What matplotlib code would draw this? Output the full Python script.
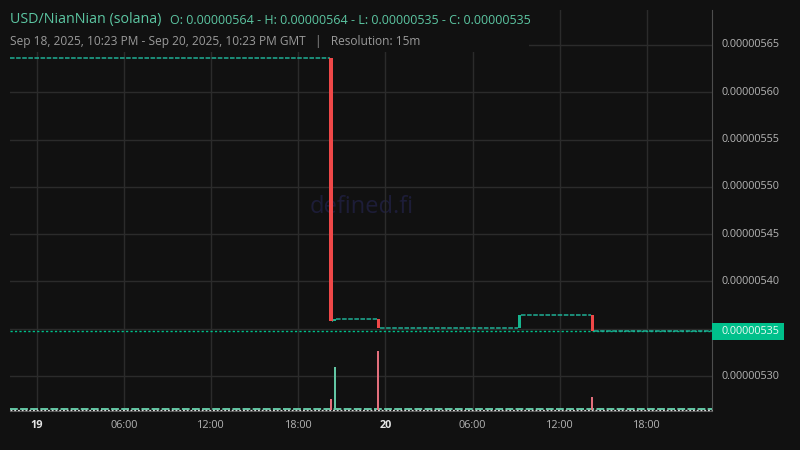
import matplotlib
matplotlib.use("Agg")
import matplotlib.pyplot as plt
from matplotlib.patches import Rectangle, FancyBboxPatch

# ---- data (time in hours from Sep 19, 2025 00:00 GMT; price in 1e-6 USD) ----
candle_times = [20.25, 20.5, 23.5, 33.25, 38.25]
opens = [5.6359, 5.3582, 5.3600, 5.3503, 5.3645]
closes = [5.3582, 5.3600, 5.3503, 5.3645, 5.3473]
volumes = [2.2, 8.6, 11.8, 0.3, 2.6]
small_volume = 0.25
last_price = 5.3473
last_price_label = "0.00000535"

price_ticks = [5.30, 5.35, 5.40, 5.45, 5.50, 5.55, 5.60, 5.65]
price_tick_labels = ["0.00000530", "0.00000535", "0.00000540", "0.00000545",
                     "0.00000550", "0.00000555", "0.00000560", "0.00000565"]
time_ticks = [0, 6, 12, 18, 24, 30, 36, 42]
time_tick_labels = ["19", "06:00", "12:00", "18:00", "20", "06:00", "12:00", "18:00"]

x_start, x_end = -1.86, 46.49
y_lo, y_hi = 5.2630, 5.6870

title = "USD/NianNian (solana)"
ohlc_text = "O: 0.00000564 - H: 0.00000564 - L: 0.00000535 - C: 0.00000535"
sub_text = "Sep 18, 2025, 10:23 PM - Sep 20, 2025, 10:23 PM GMT   |   Resolution: 15m"

# ---- style ----
BG = "#111111"
GRID = "#2b2b2b"
UP = "#17b48e"
DOWN = "#ef4848"
UP_VOL = "#62c6a4"
DOWN_VOL = "#e36f7c"
FLAT = "#1faf95"
LABEL = "#b4b4b4"
FONT = ["Open Sans", "DejaVu Sans"]
plt.rcParams["font.family"] = FONT

fig = plt.figure(figsize=(8, 4.5), dpi=100, facecolor=BG)
ax = fig.add_axes([10 / 800, 1 - 411 / 450, 702 / 800, 401 / 450])
ax.set_facecolor(BG)
ax.set_xlim(x_start, x_end)
ax.set_ylim(y_lo, y_hi)

# grid
ax.set_xticks(time_ticks)
ax.set_yticks(price_ticks)
ax.grid(True, color=GRID, linewidth=1.0)
ax.tick_params(length=0, labelleft=False, labelbottom=False)
for s in ["top", "left"]:
    ax.spines[s].set_visible(False)
ax.spines["right"].set_color("#4d4d4d")
ax.spines["bottom"].set_color("#555555")

# watermark (behind the marks)
ax.text(0.5 * (362 - 10) / 351, 1 - (207 - 10) / 401, "defined.fi",
        transform=ax.transAxes, fontsize=17, color="#1d1d38",
        ha="center", va="center", zorder=0.8)

# volume axis
vax = ax.twinx()
vax.set_ylim(-0.15, 80)
vax.set_axis_off()
vax.set_zorder(ax.get_zorder() + 1)
vax.patch.set_visible(False)

# flat (unchanged) candles drawn as dashed run lines
half = 0.1
run_starts = [x_start] + [t + half for t in candle_times]
run_ends = [t - half for t in candle_times] + [x_end]
run_prices = [opens[0]] + closes
for xs, xe, p in zip(run_starts, run_ends, run_prices):
    ax.plot([xs, xe], [p, p], color=FLAT, linewidth=1.1,
            linestyle=(0, (3.0, 1.0)), zorder=3, dash_capstyle="butt")

# last price line
ax.axhline(last_price, color="#00c08b", linewidth=1.0,
           linestyle=(0, (1.6, 1.6)), zorder=2)

# candles
for t, o, c in zip(candle_times, opens, closes):
    col = UP if c >= o else DOWN
    ax.bar(t, abs(c - o), bottom=min(o, c), width=0.21, color=col,
           linewidth=0, zorder=4)

# volume
vax.plot([x_start, x_end], [small_volume, small_volume], color=UP_VOL,
         linewidth=1.4, linestyle=(0, (4, 1.2)), zorder=2)
vax.plot([x_start, x_end], [0, 0], color="#dddddd", linewidth=0.9,
         linestyle=(0, (1.5, 1.5)), zorder=3, clip_on=False)
for t, o, c, v in zip(candle_times, opens, closes, volumes):
    col = UP_VOL if c >= o else DOWN_VOL
    vax.bar(t, v, width=0.15, color=col, linewidth=0, zorder=4)

# price tick labels (the one under the last-price box is hidden by it)
ytr = ax.get_yaxis_transform()
for p, lab in zip(price_ticks, price_tick_labels):
    if lab == last_price_label:
        continue
    ax.text(1.0 + 10 / 702, p, lab, transform=ytr,
            ha="left", va="center", fontsize=7.8, color=LABEL, clip_on=False)

# time tick labels
for t, lab in zip(time_ticks, time_tick_labels):
    bold = lab in ("19", "20")
    ax.text(t, -0.035, lab, transform=ax.get_xaxis_transform(),
            ha="center", va="center", fontsize=7.8,
            color="#e6e6e6" if bold else LABEL,
            fontweight="bold" if bold else "normal", clip_on=False)

# last price label box
box_h = 17 / 401 * (y_hi - y_lo)
ax.add_patch(FancyBboxPatch((1.0, last_price - box_h / 2), 72 / 702, box_h,
                            boxstyle="square,pad=0", transform=ytr,
                            facecolor="#00c08b", edgecolor="none",
                            clip_on=False, zorder=9))
ax.text(1.0 + 10 / 702, last_price, last_price_label, transform=ytr,
        ha="left", va="center", fontsize=7.8, color="#eafaf4",
        clip_on=False, zorder=10)

# header box hiding the grid behind the legend
fig.patches.append(Rectangle((0, 1 - 52 / 450), 529 / 800, 52 / 450,
                             transform=fig.transFigure, facecolor=BG,
                             edgecolor="none", zorder=5))

fig.text(10 / 800, 1 - 20 / 450, title, fontsize=10.3, color="#5cc6a2",
         ha="left", va="center", zorder=6)
fig.text(170 / 800, 1 - 20 / 450, ohlc_text, fontsize=9.0, color="#5cc6a2",
         ha="left", va="center", zorder=6)
fig.text(10 / 800, 1 - 41 / 450, sub_text, fontsize=8.6, color="#9a9a9a",
         ha="left", va="center", zorder=6)

fig.savefig("out.png", dpi=100, facecolor=BG)
